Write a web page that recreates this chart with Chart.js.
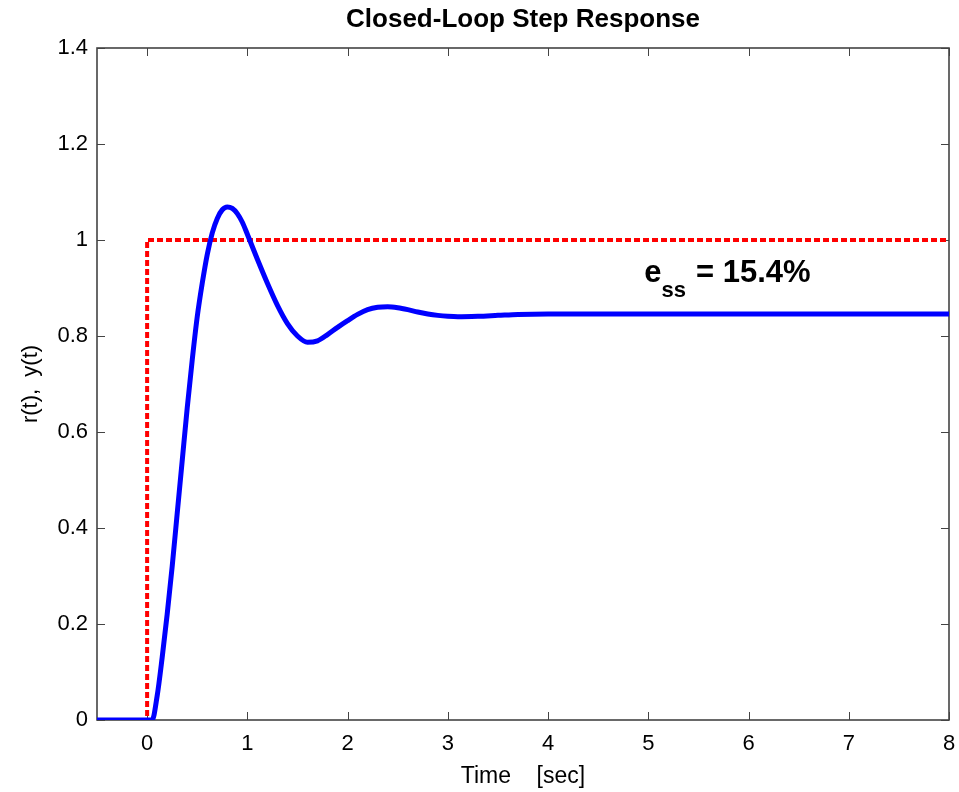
<!DOCTYPE html>
<html>
<head>
<meta charset="utf-8">
<script src="https://cdn.jsdelivr.net/npm/chart.js@4/dist/chart.umd.min.js"></script>
<style>
  body { margin: 0; background: #fff; }
  #wrap { width: 959px; height: 792px; }
</style>
</head>
<body>
<div id="wrap"><canvas id="chart" width="959" height="792"></canvas></div>
<script>
// time axis and reference step r(t)
const stepTime = [-0.5, 0, 0, 8];
const stepValue = [0, 0, 1, 1];

// closed-loop output y(t)
const respTime = [-0.5, 0, 0.05, 0.1, 0.15, 0.2, 0.25, 0.3, 0.35, 0.4, 0.45, 0.5, 0.55, 0.6, 0.65, 0.7,
  0.75, 0.8, 0.85, 0.9, 0.95, 1.0, 1.1, 1.2, 1.3, 1.4, 1.5, 1.6, 1.7, 1.8, 1.9, 2.0, 2.1, 2.2,
  2.3, 2.4, 2.5, 2.6, 2.7, 2.8, 2.9, 3.0, 3.1, 3.3, 3.5, 3.7, 4.0, 5.0, 6.0, 7.0, 8.0];
const respValue = [0, 0, 0, 0.05, 0.13, 0.22, 0.32, 0.43, 0.54, 0.65, 0.75, 0.84, 0.91, 0.97, 1.015, 1.045,
  1.063, 1.069, 1.066, 1.055, 1.037, 1.012, 0.96, 0.91, 0.864, 0.826, 0.8, 0.787, 0.79, 0.803, 0.818, 0.832, 0.845, 0.855,
  0.86, 0.861, 0.859, 0.855, 0.85, 0.846, 0.843, 0.841, 0.84, 0.841, 0.843, 0.845, 0.846, 0.846, 0.846, 0.846, 0.846];

const xTicks = [0, 1, 2, 3, 4, 5, 6, 7, 8];
const yTicks = [0, 0.2, 0.4, 0.6, 0.8, 1, 1.2, 1.4];
const yTickLabels = ['0', '0.2', '0.4', '0.6', '0.8', '1', '1.2', '1.4'];

const titleText = 'Closed-Loop Step Response';
const essText = '= 15.4%';
const essAt = { x: 4.96, y: 0.9125 };

const FONT = '"Liberation Sans", Arial, sans-serif';
const AXIS = '#444';

const pts = (xs, ys) => xs.map((x, i) => ({ x: x, y: ys[i] }));

// MATLAB style box with inward ticks, title over the axes, e_ss label
const frame = {
  id: 'frame',
  beforeDatasetsDraw(chart) {
    const { ctx, chartArea: a, scales } = chart;
    ctx.save();
    ctx.strokeStyle = AXIS;
    ctx.lineWidth = 1;
    ctx.beginPath();
    xTicks.forEach(v => {
      const px = Math.round(scales.x.getPixelForValue(v)) + 0.5;
      ctx.moveTo(px, a.bottom); ctx.lineTo(px, a.bottom - 8);
      ctx.moveTo(px, a.top); ctx.lineTo(px, a.top + 8);
    });
    yTicks.forEach(v => {
      const py = Math.round(scales.y.getPixelForValue(v)) + 0.5;
      ctx.moveTo(a.left, py); ctx.lineTo(a.left + 8, py);
      ctx.moveTo(a.right, py); ctx.lineTo(a.right - 8, py);
    });
    ctx.stroke();
    ctx.lineWidth = 1.6;
    ctx.strokeRect(a.left, a.top, a.right - a.left, a.bottom - a.top);

    ctx.fillStyle = '#000';
    ctx.font = 'bold 26px ' + FONT;
    ctx.textAlign = 'center';
    ctx.textBaseline = 'middle';
    ctx.fillText(titleText, (a.left + a.right) / 2, 20);
    ctx.restore();
  },
  afterDatasetsDraw(chart) {
    const { ctx, scales } = chart;
    const x = scales.x.getPixelForValue(essAt.x);
    const y = scales.y.getPixelForValue(essAt.y);
    ctx.save();
    ctx.fillStyle = '#000';
    ctx.textBaseline = 'alphabetic';
    ctx.font = 'bold 31px ' + FONT;
    ctx.fillText('e', x, y);
    const ew = ctx.measureText('e').width;
    ctx.font = 'bold 22px ' + FONT;
    ctx.fillText('ss', x + ew, y + 15);
    const sw = ctx.measureText('ss').width;
    ctx.font = 'bold 31px ' + FONT;
    ctx.fillText(essText, x + ew + sw + 10, y);
    ctx.restore();
  }
};

new Chart(document.getElementById('chart'), {
  type: 'line',
  data: {
    datasets: [{
      label: 'y(t)',
      data: pts(respTime, respValue),
      borderColor: '#0000ff',
      borderWidth: 5,
      pointRadius: 0,
      cubicInterpolationMode: 'monotone',
      fill: false
    }, {
      label: 'r(t)',
      data: pts(stepTime, stepValue),
      borderColor: '#ff0000',
      borderWidth: 4,
      borderDash: [6, 3],
      pointRadius: 0,
      tension: 0,
      fill: false
    }]
  },
  options: {
    responsive: false,
    animation: false,
    layout: { padding: { left: 0, right: 10, top: 48, bottom: 1 } },
    plugins: {
      legend: { display: false },
      tooltip: { enabled: false },
      title: { display: false }
    },
    scales: {
      x: {
        type: 'linear',
        min: -0.5,
        max: 8,
        afterBuildTicks: s => { s.ticks = xTicks.map(v => ({ value: v })); },
        afterFit: s => { s.height = 71; s.paddingLeft = 0; s.paddingRight = 0; },
        grid: { display: false, drawTicks: false },
        border: { display: false },
        ticks: { color: '#000', padding: 11, font: { family: FONT, size: 22 } },
        title: {
          display: true,
          text: 'Time    [sec]',
          color: '#000',
          font: { family: FONT, size: 23 },
          padding: { top: 0, bottom: 1 }
        }
      },
      y: {
        type: 'linear',
        min: 0,
        max: 1.4,
        afterBuildTicks: s => { s.ticks = yTicks.map(v => ({ value: v })); },
        afterFit: s => { s.width = 97; s.paddingTop = 0; s.paddingBottom = 0; },
        grid: { display: false, drawTicks: false },
        border: { display: false },
        ticks: {
          color: '#000',
          padding: 9,
          font: { family: FONT, size: 22 },
          callback: v => yTickLabels[yTicks.indexOf(v)]
        },
        title: {
          display: true,
          text: 'r(t),  y(t)',
          color: '#000',
          font: { family: FONT, size: 22 },
          padding: { top: 18, bottom: 0 }
        }
      }
    }
  },
  plugins: [frame]
});
</script>
</body>
</html>
